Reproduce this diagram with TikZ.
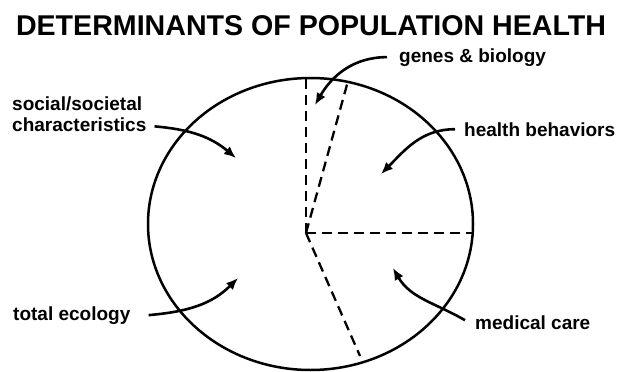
\documentclass[tikz,border=0pt]{standalone}
\usepackage{fontspec}
\setmainfont{Liberation Sans}
\usetikzlibrary{arrows.meta}

\begin{document}
\begin{tikzpicture}[x=1pt, y=-1pt,
        lab/.style={font=\bfseries\fontsize{19}{21}\selectfont, inner sep=0pt,
            anchor=base west, align=left},
        arr/.style={line width=2.6pt, -{Latex[length=12pt, width=10pt]}},
        sep/.style={line width=2.3pt, dash pattern=on 10pt off 6pt}
    ]
    \useasboundingbox (0,0) rectangle (621,372);
    \node[font=\bfseries\fontsize{28.6}{32}\selectfont, anchor=base] (title) at (311,35)
        {DETERMINANTS OF POPULATION HEALTH};
    % the whole population
    \draw[line width=2.5pt] (310.5,224) ellipse [x radius=162.5pt, y radius=146pt];
    % sector borders
    \coordinate (c) at (306,233);
    \coordinate (top) at (306,79);
    \coordinate (gen) at (348,81);
    \coordinate (rgt) at (472,233);
    \coordinate (bot) at (360,356);
    \draw[sep] (c) -- (top);
    \draw[sep] (c) -- (gen);
    \draw[sep] (c) -- (rgt);
    \draw[sep] (c) -- (bot);
    % labels
    \node[lab, anchor=north west] (soc) at (12,97) {social/societal\\characteristics};
    \node[lab] (genes) at (399,62) {genes \& biology};
    \node[lab] (behav) at (464,136) {health behaviors};
    \node[lab] (ecol) at (13,320) {total ecology};
    \node[lab] (medic) at (475,329) {medical care};
    % arrows into the sectors
    \coordinate (socpt) at (236,158);
    \coordinate (genpt) at (315,105);
    \coordinate (behpt) at (381,174);
    \coordinate (ecopt) at (238,278);
    \coordinate (medpt) at (393,268);
    \draw[arr] ([xshift=8pt, yshift=6pt]soc.south east) to[out=-5, in=140] (socpt);
    \draw[arr] ([xshift=-12pt]genes.west) to[out=180, in=60] (genpt);
    \draw[arr] ([xshift=-9pt]behav.west) to[out=180, in=45] (behpt);
    \draw[arr] ([xshift=18pt]ecol.east) to[out=5, in=225] (ecopt);
    \draw[arr] ([xshift=-10pt, yshift=2pt]medic.west) to[out=150, in=300] (medpt);
\end{tikzpicture}
\end{document}
